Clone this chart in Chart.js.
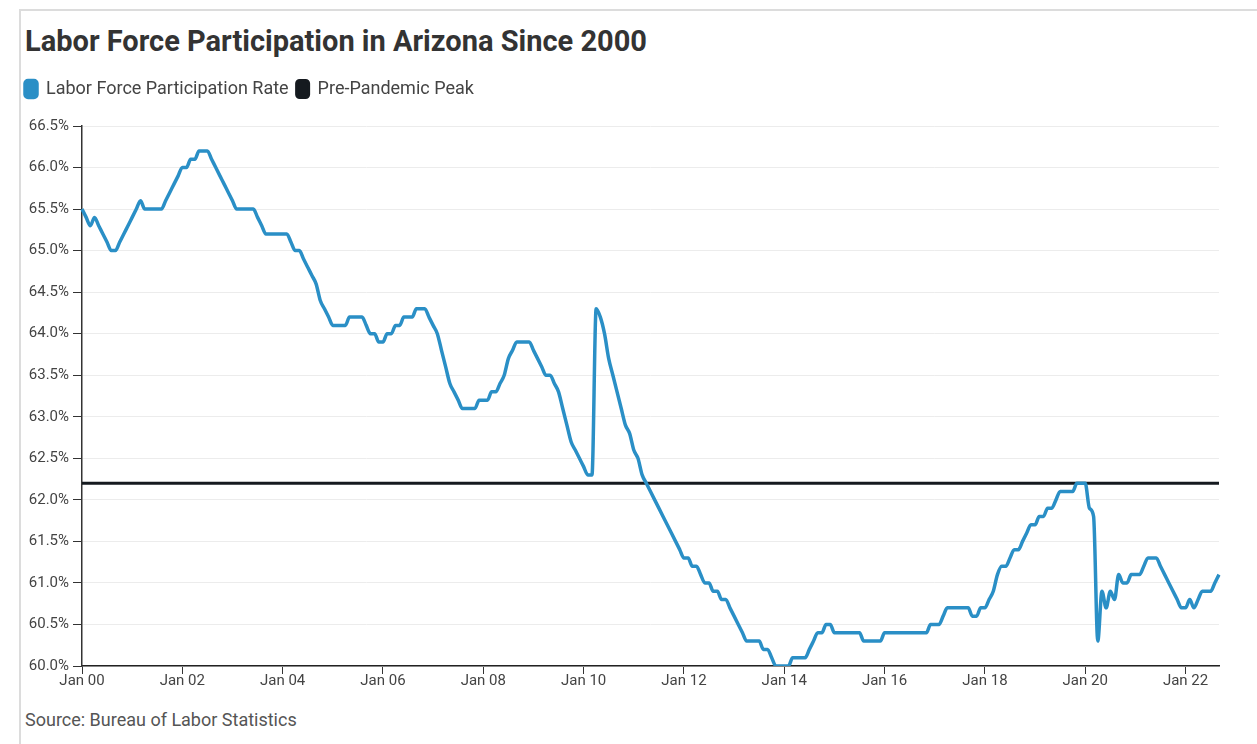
<!DOCTYPE html>
<html>
<head>
<meta charset="utf-8">
<script src="https://cdn.jsdelivr.net/npm/chart.js@4"></script>
<style>
  body { margin: 0; background: #fff; font-family: Roboto, "Noto Sans", sans-serif; }
  #card {
    position: absolute; left: 19px; top: 9px; width: 1250px; height: 760px;
    border-left: 2px solid #dcdcdc; border-top: 2px solid #dcdcdc;
  }
  #title {
    position: absolute; left: 25px; top: 24px; margin: 0;
    font-size: 29px; font-weight: 700; color: #333; letter-spacing: 0;
  }
  #source {
    position: absolute; left: 25px; top: 709px; font-size: 18px; color: #555;
  }
  #wrap { position: absolute; left: 17px; top: 72px; width: 1240px; height: 624px; }
</style>
</head>
<body>
<div id="card"></div>
<h1 id="title">Labor Force Participation in Arizona Since 2000</h1>
<div id="wrap"><canvas id="chart"></canvas></div>
<div id="source">Source: Bureau of Labor Statistics</div>
<script>
var monthNames = ["Jan","Feb","Mar","Apr","May","Jun","Jul","Aug","Sep","Oct","Nov","Dec"];

// Arizona labor force participation rate, monthly, Jan 2000 - Sep 2022
var rate2000 = [65.5, 65.4, 65.3, 65.4, 65.3, 65.2, 65.1, 65.0, 65.0, 65.1, 65.2, 65.3];
var rate2001 = [65.4, 65.5, 65.6, 65.5, 65.5, 65.5, 65.5, 65.5, 65.6, 65.7, 65.8, 65.9];
var rate2002 = [66.0, 66.0, 66.1, 66.1, 66.2, 66.2, 66.2, 66.1, 66.0, 65.9, 65.8, 65.7];
var rate2003 = [65.6, 65.5, 65.5, 65.5, 65.5, 65.5, 65.4, 65.3, 65.2, 65.2, 65.2, 65.2];
var rate2004 = [65.2, 65.2, 65.1, 65.0, 65.0, 64.9, 64.8, 64.7, 64.6, 64.4, 64.3, 64.2];
var rate2005 = [64.1, 64.1, 64.1, 64.1, 64.2, 64.2, 64.2, 64.2, 64.1, 64.0, 64.0, 63.9];
var rate2006 = [63.9, 64.0, 64.0, 64.1, 64.1, 64.2, 64.2, 64.2, 64.3, 64.3, 64.3, 64.2];
var rate2007 = [64.1, 64.0, 63.8, 63.6, 63.4, 63.3, 63.2, 63.1, 63.1, 63.1, 63.1, 63.2];
var rate2008 = [63.2, 63.2, 63.3, 63.3, 63.4, 63.5, 63.7, 63.8, 63.9, 63.9, 63.9, 63.9];
var rate2009 = [63.8, 63.7, 63.6, 63.5, 63.5, 63.4, 63.3, 63.1, 62.9, 62.7, 62.6, 62.5];
var rate2010 = [62.4, 62.3, 62.3, 64.3, 64.2, 64.0, 63.7, 63.5, 63.3, 63.1, 62.9, 62.8];
var rate2011 = [62.6, 62.5, 62.3, 62.2, 62.1, 62.0, 61.9, 61.8, 61.7, 61.6, 61.5, 61.4];
var rate2012 = [61.3, 61.3, 61.2, 61.2, 61.1, 61.0, 61.0, 60.9, 60.9, 60.8, 60.8, 60.7];
var rate2013 = [60.6, 60.5, 60.4, 60.3, 60.3, 60.3, 60.3, 60.2, 60.2, 60.1, 60.0, 60.0];
var rate2014 = [60.0, 60.0, 60.1, 60.1, 60.1, 60.1, 60.2, 60.3, 60.4, 60.4, 60.5, 60.5];
var rate2015 = [60.4, 60.4, 60.4, 60.4, 60.4, 60.4, 60.4, 60.3, 60.3, 60.3, 60.3, 60.3];
var rate2016 = [60.4, 60.4, 60.4, 60.4, 60.4, 60.4, 60.4, 60.4, 60.4, 60.4, 60.4, 60.5];
var rate2017 = [60.5, 60.5, 60.6, 60.7, 60.7, 60.7, 60.7, 60.7, 60.7, 60.6, 60.6, 60.7];
var rate2018 = [60.7, 60.8, 60.9, 61.1, 61.2, 61.2, 61.3, 61.4, 61.4, 61.5, 61.6, 61.7];
var rate2019 = [61.7, 61.8, 61.8, 61.9, 61.9, 62.0, 62.1, 62.1, 62.1, 62.1, 62.2, 62.2];
var rate2020 = [62.2, 61.9, 61.8, 60.3, 60.9, 60.7, 60.9, 60.8, 61.1, 61.0, 61.0, 61.1];
var rate2021 = [61.1, 61.1, 61.2, 61.3, 61.3, 61.3, 61.2, 61.1, 61.0, 60.9, 60.8, 60.7];
var rate2022 = [60.7, 60.8, 60.7, 60.8, 60.9, 60.9, 60.9, 61.0, 61.1];

var rates = [].concat(rate2000, rate2001, rate2002, rate2003, rate2004, rate2005,
  rate2006, rate2007, rate2008, rate2009, rate2010, rate2011, rate2012, rate2013,
  rate2014, rate2015, rate2016, rate2017, rate2018, rate2019, rate2020, rate2021, rate2022);

var prePandemicPeak = 62.2;

var labels = [];
for (let i = 0; i < rates.length; i++) {
  let yy = String(i / 12 | 0).padStart(2, "0");
  labels.push(monthNames[i % 12] + " " + yy);
}
// only Jan of even years get a tick label
var shownTicks = ["Jan 00","Jan 02","Jan 04","Jan 06","Jan 08","Jan 10",
  "Jan 12","Jan 14","Jan 16","Jan 18","Jan 20","Jan 22"];

var legendSpacer = {
  id: "legendSpacer",
  beforeInit(chart) {
    const fit = chart.legend.fit;
    chart.legend.fit = function() {
      fit.call(this);
      this.height += 18;
    };
  }
};

Chart.defaults.font.family = "Roboto, 'Noto Sans', sans-serif";

var ctx = document.getElementById("chart").getContext("2d");
new Chart(ctx, {
  type: "line",
  data: {
    labels: labels,
    datasets: [{
      label: "Labor Force Participation Rate",
      data: rates,
      borderColor: "#2a8fc6",
      backgroundColor: "#2a8fc6",
      borderWidth: 3.5,
      pointRadius: 0,
      cubicInterpolationMode: "monotone"
    }, {
      label: "Pre-Pandemic Peak",
      data: labels.map(() => prePandemicPeak),
      borderColor: "#151a1f",
      backgroundColor: "#151a1f",
      borderWidth: 3,
      pointRadius: 0
    }]
  },
  options: {
    responsive: true,
    maintainAspectRatio: false,
    animation: false,
    layout: { padding: { left: 0, right: 38, top: 0, bottom: 0 } },
    plugins: {
      legend: {
        align: "start",
        labels: {
          boxWidth: 12,
          boxHeight: 17,
          useBorderRadius: true,
          borderRadius: 3,
          padding: 8,
          color: "#444",
          font: { size: 18 }
        }
      },
      tooltip: { enabled: false }
    },
    scales: {
      x: {
        ticks: {
          autoSkip: false,
          maxRotation: 0,
          color: "#444",
          font: { size: 15 },
          padding: -2,
          callback: function(v, i) {
            let l = labels[i];
            return shownTicks.indexOf(l) >= 0 ? l : "";
          }
        },
        grid: {
          drawOnChartArea: false,
          tickLength: 8,
          tickColor: function(c) {
            return c.tick && shownTicks.indexOf(labels[c.index]) >= 0 ? "#333" : "rgba(0,0,0,0)";
          }
        },
        border: { color: "#222", width: 1.5 },
        afterFit: function(s) { s.height = 30; }
      },
      y: {
        min: 60,
        max: 66.5,
        ticks: {
          stepSize: 0.5,
          color: "#444",
          font: { size: 15 },
          padding: 4,
          callback: function(v) { return v.toFixed(1) + "%"; }
        },
        grid: { color: "#ececec", tickColor: "#333", tickLength: 9 },
        border: { color: "#333", width: 1.5 },
        afterFit: function(s) { s.width = 65; }
      }
    }
  },
  plugins: [legendSpacer]
});
</script>
</body>
</html>
